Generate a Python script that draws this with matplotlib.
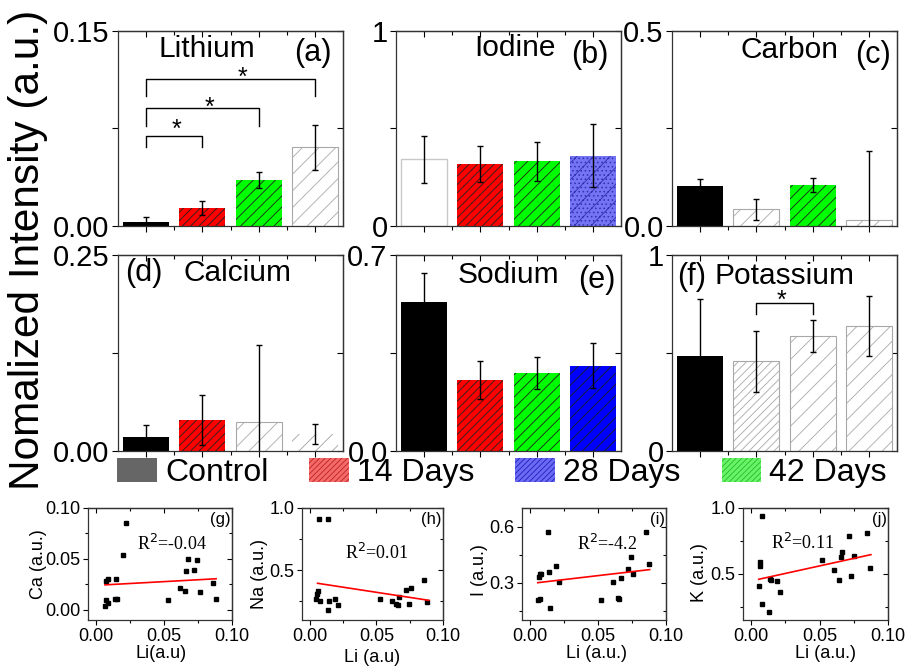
import matplotlib
matplotlib.use('Agg')
import matplotlib.pyplot as plt
from matplotlib.patches import Patch

plt.rcParams['font.family'] = ['Liberation Sans', 'DejaVu Sans']
plt.rcParams['hatch.linewidth'] = 0.6
plt.rcParams['axes.linewidth'] = 0.9
plt.rcParams['axes.edgecolor'] = '#333333'

# ---- bar panels (a)-(f) ----
groups = ['Control', '14 Days', '28 Days', '42 Days']
elements = ['Lithium', 'Iodine', 'Carbon', 'Calcium', 'Sodium', 'Potassium']
tags = ['(a)', '(b)', '(c)', '(d)', '(e)', '(f)']

li_mean = [0.0031, 0.0138, 0.0354, 0.0605]
li_err = [0.004, 0.0055, 0.0064, 0.0175]
i_mean = [0.342, 0.318, 0.333, 0.361]
i_err = [0.12, 0.09, 0.10, 0.16]
c_mean = [0.103, 0.043, 0.105, 0.015]
c_err = [0.017, 0.027, 0.019, 0.177]
ca_mean = [0.018, 0.0395, 0.0366, 0.0213]
ca_err = [0.015, 0.032, 0.099, 0.013]
na_mean = [0.533, 0.254, 0.280, 0.305]
na_err = [0.104, 0.067, 0.057, 0.081]
k_mean = [0.484, 0.458, 0.586, 0.637]
k_err = [0.29, 0.156, 0.081, 0.152]

means = [li_mean, i_mean, c_mean, ca_mean, na_mean, k_mean]
errs = [li_err, i_err, c_err, ca_err, na_err, k_err]
ymax = [0.15, 1, 0.5, 0.25, 0.7, 1]
ylabs = [('0.00', '0.15'), ('0', '1'), ('0.0', '0.5'),
         ('0.00', '0.25'), ('0.0', '0.7'), ('0', '1')]

bar_styles = [['black', 'red', 'green', 'grey'],
              ['plain', 'red', 'green', 'dots'],
              ['black', 'grey', 'green', 'grey'],
              ['black', 'red', 'grey', 'grey_noedge'],
              ['black', 'red', 'green', 'blue'],
              ['black', 'grey_dense', 'grey', 'grey']]

# significance brackets: (bar i, bar j, leg bottom, bracket top, star x, star y)
brackets = {0: [(1, 2, 0.0605, 0.0695, 1.54, 0.0739),
                (1, 3, 0.0769, 0.0905, 2.12, 0.0910),
                (1, 4, 0.1000, 0.1128, 2.71, 0.1141)],
            5: [(2, 3, 0.697, 0.753, 2.45, 0.765)]}

styles = {
    'black': dict(facecolor='black', edgecolor='black', linewidth=0),
    'red': dict(facecolor='#ff0000', edgecolor='#202020', hatch='////', linewidth=0),
    'green': dict(facecolor='#00ff00', edgecolor='#202020', hatch='///', linewidth=0),
    'blue': dict(facecolor='#0000ff', edgecolor='#202020', hatch='///', linewidth=0),
    'dots': dict(facecolor='#7474f4', edgecolor='#3030b0', hatch='//....', linewidth=0),
    'grey': dict(facecolor='white', edgecolor='#a8a8a8', hatch='//', linewidth=0.8),
    'grey_dense': dict(facecolor='white', edgecolor='#a8a8a8', hatch='////', linewidth=0.8),
    'grey_noedge': dict(facecolor='white', edgecolor='#a0a0a0', hatch='//', linewidth=0),
    'plain': dict(facecolor='white', edgecolor='#c8c8c8', linewidth=1.0),
}

# text placement (axes fraction) for element name and tag
name_pos = [(0.396, 0.908), (0.527, 0.913), (0.524, 0.903),
            (0.533, 0.908), (0.498, 0.898), (0.502, 0.892)]
tag_pos = [(0.867, 0.887), (0.862, 0.877), (0.893, 0.877),
           (0.116, 0.908), (0.893, 0.872), (0.089, 0.888)]

# ---- scatter panels (g)-(j) ----
g_li = [0.0068, 0.0075, 0.0087, 0.0075, 0.0085, 0.0149, 0.0139, 0.0156, 0.0198, 0.0217,
        0.0529, 0.0617, 0.0651, 0.0664, 0.0678, 0.0722, 0.0745, 0.0764, 0.0860, 0.0882]
g_ca = [0.004, 0.0095, 0.007, 0.0286, 0.030, 0.0306, 0.0105, 0.0105, 0.054, 0.085,
        0.0095, 0.0217, 0.018, 0.038, 0.0497, 0.039, 0.0487, 0.0178, 0.026, 0.0105]
h_li = [0.0069, 0.0132, 0.0057, 0.0050, 0.0045, 0.0075, 0.0142, 0.0134, 0.0190, 0.0210,
        0.0525, 0.0617, 0.0650, 0.0660, 0.0672, 0.0720, 0.0760, 0.0744, 0.0859, 0.0881]
h_na = [0.911, 0.911, 0.333, 0.310, 0.270, 0.250, 0.253, 0.180, 0.266, 0.218,
        0.266, 0.253, 0.231, 0.223, 0.288, 0.344, 0.358, 0.231, 0.425, 0.245]
i_li = [0.0056, 0.0075, 0.0065, 0.0073, 0.0083, 0.0132, 0.0142, 0.0147, 0.0191, 0.0213,
        0.0525, 0.0609, 0.0646, 0.0656, 0.0670, 0.0717, 0.0740, 0.0757, 0.0853, 0.0875]
i_i = [0.205, 0.210, 0.330, 0.345, 0.345, 0.571, 0.359, 0.165, 0.390, 0.305,
       0.208, 0.305, 0.219, 0.210, 0.327, 0.374, 0.438, 0.348, 0.574, 0.398]
j_li = [0.0057, 0.0077, 0.0067, 0.0067, 0.0082, 0.0130, 0.0140, 0.0147, 0.0186, 0.0210,
        0.0521, 0.0606, 0.0640, 0.0655, 0.0665, 0.0714, 0.0733, 0.0753, 0.0848, 0.0867]
j_k = [0.405, 0.941, 0.592, 0.559, 0.269, 0.213, 0.464, 0.456, 0.449, 0.364,
       0.605, 0.526, 0.456, 0.626, 0.669, 0.790, 0.482, 0.636, 0.810, 0.544]

fit_x = [[0.0065, 0.0883], [0.0057, 0.0894], [0.0056, 0.0880], [0.0055, 0.0875]]
fit_y = [[0.0245, 0.0305], [0.395, 0.258], [0.300, 0.370], [0.459, 0.646]]
r2_text = ['R$^2$=-0.04', 'R$^2$=0.01', 'R$^2$=-4.2', 'R$^2$=0.11']
sc_tags = ['(g)', '(h)', '(i)', '(j)']
sc_ylabels = ['Ca (a.u.)', 'Na (a.u.)', 'I (a.u.)', 'K (a.u.)']
sc_xlabels = ['Li(a.u)', 'Li (a.u)', 'Li (a.u.)', 'Li (a.u.)']
sc_ylim = [(-0.01, 0.10), (0.1, 1.0), (0.1, 0.7), (0.15, 1.0)]
sc_yticks = [[0, 0.05, 0.10], [0.5, 1.0], [0.3, 0.6], [0.5, 1.0]]
sc_yticklabels = [['0.00', '0.05', '0.10'], ['0.5', '1.0'], ['0.3', '0.6'], ['0.5', '1.0']]
sc_yminor = [[0.025, 0.075], [0.25, 0.75], [0.15, 0.45], [0.25, 0.75]]
r2_pos = [(0.34, 0.68), (0.305, 0.60), (0.38, 0.68), (0.19, 0.685)]
ylab_pos = [(-0.285, 0.5), (-0.24, 0.41), (-0.236, 0.45), (-0.24, 0.42)]
xlab_pos = [(0.51, -0.225), (0.50, -0.26), (0.52, -0.22), (0.57, -0.22)]


def frame_ticks(ax, xmaj, xmin, ymaj, ymin, L=4):
    ax.set_xticks(xmaj)
    ax.set_xticks(xmin, minor=True)
    ax.set_yticks(ymaj)
    ax.set_yticks(ymin, minor=True)
    ax.tick_params(which='both', direction='out', length=L, width=0.8, pad=2)
    ax.tick_params(which='minor', length=L * 0.65)
    top = ax.secondary_xaxis('top')
    top.set_xticks(xmaj)
    top.set_xticks(xmin, minor=True)
    top.tick_params(which='both', direction='in', labeltop=False, length=L, width=0.8)
    top.tick_params(which='minor', length=L * 0.65)
    right = ax.secondary_yaxis('right')
    right.set_yticks(ymaj)
    right.set_yticks(ymin, minor=True)
    right.tick_params(which='both', direction='in', labelright=False, length=L, width=0.8)
    right.tick_params(which='minor', length=L * 0.65)


fig = plt.figure(figsize=(9.07, 6.69), dpi=100)
W, H = 907.0, 669.0

lefts = [118, 396, 672]
rows = [(31, 226), (255, 451)]
xpos = [1, 2, 3, 4]

for k in range(6):
    r, c = divmod(k, 3)
    top, bot = rows[r]
    ax = fig.add_axes([lefts[c] / W, 1 - bot / H, 225 / W, (bot - top) / H])
    for x, m, e, s in zip(xpos, means[k], errs[k], bar_styles[k]):
        ax.bar(x, m, width=0.82, **styles[s])
        ax.errorbar(x, m, yerr=e, fmt='none', ecolor='black', elinewidth=1,
                    capsize=2.5, capthick=1)
    ax.set_xlim(0.5, 4.5)
    ax.set_ylim(0, ymax[k])
    frame_ticks(ax, xpos, [1.5, 2.5, 3.5], [0, ymax[k] / 2, ymax[k]], [])
    ax.set_xticklabels([])
    ax.set_yticklabels([ylabs[k][0], '', ylabs[k][1]], fontsize=21)
    ax.text(*name_pos[k], elements[k], transform=ax.transAxes, fontsize=21.5,
            ha='center', va='center')
    ax.text(*tag_pos[k], tags[k], transform=ax.transAxes, fontsize=22,
            ha='center', va='center')
    for i, j, lo, hi, sx, sy in brackets.get(k, []):
        ax.plot([i, i, j, j], [lo, hi, hi, lo], color='black', lw=1)
        ax.text(sx, sy, '*', fontsize=18, ha='center', va='center')

fig.text(0.031, 0.626, 'Nomalized Intensity (a.u.)', rotation=90,
         fontsize=30.5, ha='center', va='center')

legend_handles = [
    Patch(facecolor='#666666', edgecolor='#666666', linewidth=0),
    Patch(facecolor='#f26a6a', edgecolor='#c02020', hatch='//////', linewidth=0),
    Patch(facecolor='#6a6af2', edgecolor='#2020c0', hatch='//////', linewidth=0),
    Patch(facecolor='#6af26a', edgecolor='#20c020', hatch='//////', linewidth=0),
]
fig.legend(legend_handles, groups, loc='upper left',
           bbox_to_anchor=(117 / W, 1 - 458 / H), ncol=4, frameon=False,
           fontsize=23, handlelength=1.25, handleheight=0.75,
           handletextpad=0.25, columnspacing=1.28, borderpad=0, borderaxespad=0)

sc_x = [g_li, h_li, i_li, j_li]
sc_y = [g_ca, h_na, i_i, j_k]
sc_box = [(88, 232), (302, 443), (522, 666), (743, 888)]
for k in range(4):
    x0, x1 = sc_box[k]
    ax = fig.add_axes([x0 / W, 1 - 620 / H, (x1 - x0) / W, 112 / H])
    ax.plot(sc_x[k], sc_y[k], 's', color='black', markersize=3.2)
    ax.plot(fit_x[k], fit_y[k], color='red', lw=1.2)
    ax.set_xlim(-0.006, 0.1)
    ax.set_ylim(*sc_ylim[k])
    frame_ticks(ax, [0, 0.05, 0.10], [0.025, 0.075], sc_yticks[k], sc_yminor[k], L=3.5)
    ax.set_xticklabels(['0.00', '0.05', '0.10'], fontsize=13)
    ax.set_yticklabels(sc_yticklabels[k], fontsize=13)
    ax.set_ylabel(sc_ylabels[k], fontsize=13)
    ax.set_xlabel(sc_xlabels[k], fontsize=13)
    ax.yaxis.set_label_coords(*ylab_pos[k])
    ax.xaxis.set_label_coords(*xlab_pos[k])
    ax.text(*r2_pos[k], r2_text[k], transform=ax.transAxes, fontsize=13,
            family='Liberation Serif', ha='left', va='center')
    ax.text(0.99, 0.96, sc_tags[k], transform=ax.transAxes, fontsize=12,
            ha='right', va='top')

fig.savefig('out.png', dpi=100)
